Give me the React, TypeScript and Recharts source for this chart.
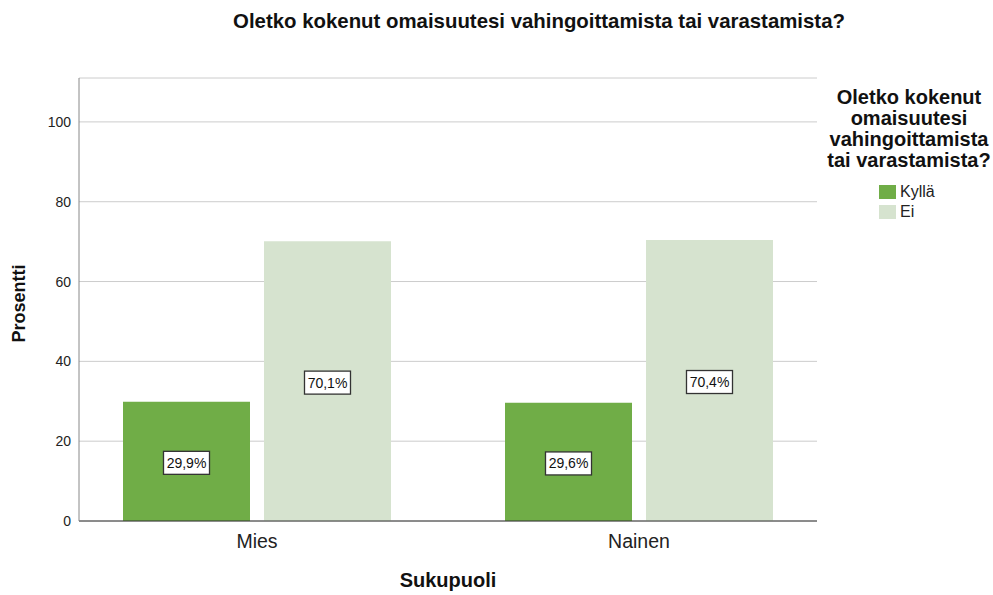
import { BarChart, Bar, XAxis, YAxis, CartesianGrid, LabelList } from 'recharts';

const categories = ['Mies', 'Nainen'];
const kyllaValues = [29.9, 29.6];
const eiValues = [70.1, 70.4];
const seriesNames = ['Kyllä', 'Ei'];
const seriesColors = ['#70ad47', '#d6e3cf'];
const yTicks = [0, 20, 40, 60, 80, 100];

const chartTitle = 'Oletko kokenut omaisuutesi vahingoittamista tai varastamista?';
const legendTitle = ['Oletko kokenut', 'omaisuutesi', 'vahingoittamista', 'tai varastamista?'];

const data = categories.map((c, i) => ({ sukupuoli: c, kylla: kyllaValues[i], ei: eiValues[i] }));

const FONT = '"Liberation Sans", Arial, sans-serif';

const fmt = (v: number) => v.toFixed(1).replace('.', ',') + '%';

// white box with border, centred in the bar
const BoxLabel = (props: any) => {
  const { x, y, width, height, value } = props;
  const cx = x + width / 2;
  const cy = y + height / 2 + 1.5;
  const w = 46;
  const h = 23;
  return (
    <g>
      <rect x={cx - w / 2} y={cy - h / 2} width={w} height={h} fill="#fff" stroke="#333" strokeWidth={1.3} />
      <text x={cx} y={cy + 5} textAnchor="middle" fontSize={14} fontFamily={FONT} fill="#111">
        {fmt(value)}
      </text>
    </g>
  );
};

export default function App() {
  return (
    <div style={{ position: 'relative', width: 993, height: 595, background: '#fff', fontFamily: FONT }}>
      <style>{'body{margin:0}'}</style>
      <div style={{ position: 'absolute', left: 0, width: 1078, top: 10, textAlign: 'center', fontWeight: 'bold', fontSize: 20.4, color: '#111' }}>
        {chartTitle}
      </div>

      <BarChart width={993} height={595} data={data} margin={{ top: 78, right: 176, bottom: 0, left: 0 }} barSize={127} barGap={14}>
        <CartesianGrid vertical={false} stroke="#cccccc" />
        <XAxis
          dataKey="sukupuoli"
          height={74}
          padding={{ left: -13, right: -13 }}
          tickLine={false}
          tickMargin={7}
          axisLine={{ stroke: '#333' }}
          tick={{ fontSize: 19.5, fill: '#222', fontFamily: FONT }}
          label={{
            content: (p: any) => {
              const vb = p.viewBox;
              return (
                <text x={vb.x + vb.width / 2} y={vb.y + 66} textAnchor="middle" fontSize={20} fontWeight="bold" fontFamily={FONT} fill="#111">
                  Sukupuoli
                </text>
              );
            },
          }}
        />
        <YAxis
          width={79}
          domain={[0, 111]}
          ticks={yTicks}
          tickLine={false}
          axisLine={{ stroke: '#888' }}
          tick={{ fontSize: 14, fill: '#222', fontFamily: FONT }}
          label={{
            content: (p: any) => {
              const vb = p.viewBox;
              const lx = 25;
              const ly = vb.y + vb.height / 2 + 4;
              return (
                <text x={lx} y={ly} transform={`rotate(-90, ${lx}, ${ly})`} textAnchor="middle" fontSize={18} fontWeight="bold" fontFamily={FONT} fill="#111">
                  Prosentti
                </text>
              );
            },
          }}
        />
        <Bar dataKey="kylla" name={seriesNames[0]} fill={seriesColors[0]} isAnimationActive={false}>
          <LabelList dataKey="kylla" content={BoxLabel} />
        </Bar>
        <Bar dataKey="ei" name={seriesNames[1]} fill={seriesColors[1]} isAnimationActive={false}>
          <LabelList dataKey="ei" content={BoxLabel} />
        </Bar>
      </BarChart>

      <div style={{ position: 'absolute', left: 822, width: 174, top: 87, textAlign: 'center', fontWeight: 'bold', fontSize: 20, lineHeight: '21px', color: '#111' }}>
        {legendTitle.map((t) => (
          <div key={t}>{t}</div>
        ))}
      </div>
      <div style={{ position: 'absolute', left: 879, top: 182, fontSize: 16, color: '#222' }}>
        {seriesNames.map((n, i) => (
          <div key={n} style={{ display: 'flex', alignItems: 'center', height: 20 }}>
            <span style={{ display: 'inline-block', width: 17, height: 14, background: seriesColors[i], marginRight: 4 }} />
            <span>{n}</span>
          </div>
        ))}
      </div>
    </div>
  );
}
